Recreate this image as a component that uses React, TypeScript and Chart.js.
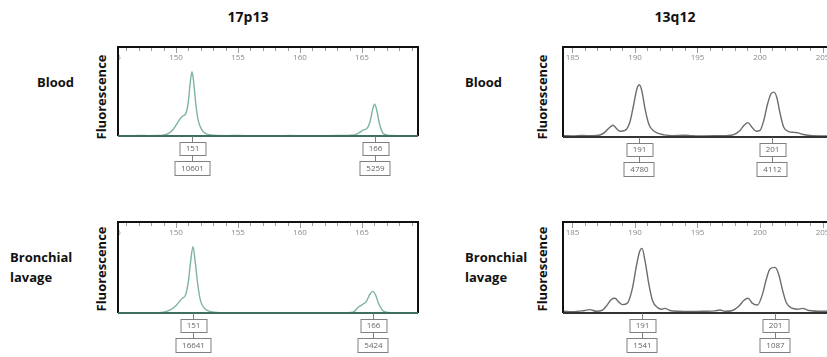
import React, { useEffect, useRef } from "react";
import { Chart, registerables } from "chart.js";
Chart.register(...registerables);

// ---------- column / row labels ----------
const COLUMN_TITLES = ["17p13", "13q12"];
const ROW_LABELS = [["Blood"], ["Bronchial", "lavage"]];
const Y_TITLE = "Fluorescence";

// ---------- tick labels ----------
const TICKS_17P13 = [145, 150, 155, 160, 165, 170];
const TICKS_13Q12 = [185, 190, 195, 200, 205];

// ---------- 17p13, Blood ----------
const BL17_SIZE = [145.32, 146.14, 146.95, 147.77, 148.59, 148.99, 149.4, 149.81, 150.22, 150.53, 150.78, 150.99, 151.14, 151.29, 151.45, 151.6, 151.8, 152.06, 152.36, 152.77, 153.28, 154.1, 155.12, 156.14, 157.16, 158.18, 159.2, 160.22, 161.24, 162.27, 163.29, 164.1, 164.61, 165.12, 165.43, 165.68, 165.89, 166.02, 166.19, 166.4, 166.65, 166.96, 167.37, 168.39, 169.52];
const BL17_RFU = [70, 50, 90, 60, 80, 150, 420, 1200, 2500, 3300, 3650, 5600, 8700, 10601, 8400, 5200, 2500, 1100, 450, 180, 80, 60, 90, 50, 70, 60, 80, 50, 70, 60, 80, 120, 350, 1000, 1300, 2600, 4600, 5259, 4300, 2100, 600, 200, 90, 60, 70];
const BL17_CALL_POS = [151.29, 166.02];
const BL17_CALLS = ["151", "166"];
const BL17_HEIGHTS = ["10601", "5259"];

// ---------- 17p13, Bronchial lavage ----------
const BR17_SIZE = [145.32, 146.14, 146.95, 147.77, 148.59, 148.99, 149.5, 150.01, 150.47, 150.78, 150.99, 151.19, 151.37, 151.55, 151.75, 151.96, 152.26, 152.67, 153.08, 153.69, 154.61, 155.63, 156.65, 157.67, 158.69, 159.71, 160.73, 161.75, 162.78, 163.8, 164.31, 164.72, 165.02, 165.33, 165.64, 165.87, 166.1, 166.35, 166.65, 166.96, 167.37, 168.39, 169.52];
const BR17_RFU = [80, 60, 100, 70, 90, 200, 700, 1900, 3600, 4600, 7800, 13200, 16641, 12800, 7200, 3300, 1300, 450, 180, 90, 70, 100, 60, 90, 70, 80, 60, 90, 70, 90, 250, 1500, 2100, 2800, 4700, 5424, 4500, 2300, 700, 220, 100, 70, 80];
const BR17_CALL_POS = [151.37, 165.87];
const BR17_CALLS = ["151", "166"];
const BR17_HEIGHTS = ["16641", "5424"];

// ---------- 13q12, Blood ----------
const BL13_SIZE = [184.24, 185.0, 185.8, 186.6, 187.2, 187.6, 187.95, 188.24, 188.5, 188.8, 189.2, 189.6, 189.9, 190.15, 190.35, 190.55, 190.8, 191.1, 191.4, 191.8, 192.3, 193.0, 194.0, 194.5, 195.5, 196.5, 197.3, 197.9, 198.4, 198.75, 199.04, 199.35, 199.7, 200.0, 200.3, 200.6, 200.9, 201.12, 201.35, 201.6, 201.9, 202.3, 202.7, 203.05, 203.4, 204.0, 205.0, 206.0];
const BL13_RFU = [120, 100, 140, 110, 180, 450, 850, 1070, 800, 520, 600, 1400, 3000, 4400, 4780, 4200, 2600, 1200, 650, 350, 200, 130, 160, 120, 100, 110, 130, 220, 600, 1100, 1320, 900, 520, 600, 1500, 3000, 4000, 4112, 3600, 2200, 900, 500, 420, 380, 250, 140, 100, 110];
const BL13_CALL_POS = [190.35, 201.0];
const BL13_CALLS = ["191", "201"];
const BL13_HEIGHTS = ["4780", "4112"];

// ---------- 13q12, Bronchial lavage ----------
const BR13_SIZE = [184.24, 185.0, 185.8, 186.4, 186.9, 187.4, 187.8, 188.1, 188.4, 188.7, 189.0, 189.4, 189.8, 190.1, 190.35, 190.56, 190.8, 191.1, 191.4, 191.8, 192.1, 192.4, 192.8, 193.5, 194.5, 195.5, 196.4, 196.8, 197.2, 197.8, 198.3, 198.7, 199.04, 199.4, 199.8, 200.2, 200.5, 200.8, 201.2, 201.5, 201.8, 202.1, 202.5, 203.0, 203.4, 203.9, 205.0, 206.0];
const BR13_RFU = [40, 30, 50, 80, 40, 70, 200, 320, 350, 260, 200, 240, 600, 1100, 1450, 1541, 1250, 700, 300, 130, 90, 110, 60, 40, 35, 40, 50, 70, 40, 60, 160, 300, 350, 230, 190, 450, 800, 1050, 1087, 920, 550, 250, 120, 90, 110, 60, 40, 45];
const BR13_CALL_POS = [190.56, 201.2];
const BR13_CALLS = ["191", "201"];
const BR13_HEIGHTS = ["1541", "1087"];

const FONT = '"Open Sans", "DejaVu Sans", sans-serif';
const PAD = 4;
const BOTTOM = 45;

type PanelProps = {
  left: number; top: number; boxW: number; boxH: number;
  xMin: number; xMax: number; yMax: number;
  sizes: number[]; rfu: number[];
  color: string; baseColor: string;
  ticks: number[];
  callPos: number[]; calls: string[]; heights: string[];
};

function Panel(p: PanelProps) {
  const ref = useRef<HTMLCanvasElement>(null);
  useEffect(() => {
    const frame = {
      id: "frame",
      afterDraw(chart: any) {
        const { ctx, chartArea: a, scales } = chart;
        const x = scales.x;
        ctx.save();
        // minor / major ticks along top
        ctx.strokeStyle = "#9a9a9a";
        ctx.lineWidth = 1;
        for (let v = Math.ceil(x.min); v <= Math.floor(x.max); v++) {
          const px = Math.round(x.getPixelForValue(v)) + 0.5;
          const len = v % 5 === 0 ? 6 : 4;
          ctx.beginPath();
          ctx.moveTo(px, a.top);
          ctx.lineTo(px, a.top + len);
          ctx.stroke();
        }
        // tick labels, clipped to the box
        ctx.save();
        ctx.beginPath();
        ctx.rect(a.left, a.top, a.right - a.left, a.bottom - a.top);
        ctx.clip();
        ctx.fillStyle = "#8a8a8a";
        ctx.font = `8px ${FONT}`;
        ctx.textAlign = "center";
        ctx.textBaseline = "middle";
        for (const t of p.ticks) {
          ctx.fillText(String(t), x.getPixelForValue(t), a.top + 11);
        }
        ctx.restore();
        // frame: left, top, right
        ctx.strokeStyle = "#111";
        ctx.lineWidth = 2;
        ctx.beginPath();
        ctx.moveTo(a.left, a.bottom);
        ctx.lineTo(a.left, a.top);
        ctx.lineTo(a.right, a.top);
        ctx.lineTo(a.right, a.bottom);
        ctx.stroke();
        // baseline
        ctx.strokeStyle = p.baseColor;
        ctx.lineWidth = 2;
        ctx.beginPath();
        ctx.moveTo(a.left, a.bottom);
        ctx.lineTo(a.right, a.bottom);
        ctx.stroke();
        // peak call boxes
        ctx.font = `8px ${FONT}`;
        ctx.textAlign = "center";
        ctx.textBaseline = "middle";
        ctx.lineWidth = 1;
        p.callPos.forEach((pos, i) => {
          const cx = Math.round(x.getPixelForValue(pos)) + 0.5;
          const b = Math.round(a.bottom) + 0.5;
          ctx.strokeStyle = "#808080";
          ctx.beginPath();
          ctx.moveTo(cx, b);
          ctx.lineTo(cx, b + 6);
          ctx.moveTo(cx, b + 19);
          ctx.lineTo(cx, b + 25);
          ctx.stroke();
          const w1 = 26;
          ctx.strokeRect(Math.round(cx - w1 / 2), b + 6, w1, 13);
          const w2 = Math.max(30, ctx.measureText(p.heights[i]).width + 12);
          ctx.strokeRect(Math.round(cx - w2 / 2), b + 25, Math.round(w2), 14);
          ctx.fillStyle = "#666";
          ctx.fillText(p.calls[i], cx, b + 12.5);
          ctx.fillText(p.heights[i], cx, b + 32);
        });
        ctx.restore();
      },
    };
    const chart = new Chart(ref.current!, {
      type: "line",
      data: {
        datasets: [
          {
            data: p.sizes.map((s, i) => ({ x: s, y: p.rfu[i] })),
            borderColor: p.color,
            borderWidth: 1.4,
            pointRadius: 0,
            cubicInterpolationMode: "monotone",
            fill: false,
          },
        ],
      },
      options: {
        animation: false,
        responsive: false,
        maintainAspectRatio: false,
        devicePixelRatio: 1,
        layout: { padding: { left: PAD, top: PAD, right: PAD, bottom: BOTTOM } },
        plugins: { legend: { display: false }, tooltip: { enabled: false }, title: { display: false } },
        scales: {
          x: { type: "linear", min: p.xMin, max: p.xMax, display: false },
          y: { type: "linear", min: 0, max: p.yMax, display: false },
        },
      },
      plugins: [frame],
    } as any);
    return () => chart.destroy();
  }, []);
  const w = p.boxW + PAD * 2;
  const h = p.boxH + PAD + BOTTOM;
  return (
    <canvas
      ref={ref}
      width={w}
      height={h}
      style={{ position: "absolute", left: p.left - PAD, top: p.top - PAD, width: w, height: h }}
    />
  );
}

const label: React.CSSProperties = {
  position: "absolute",
  fontFamily: FONT,
  fontWeight: 700,
  fontSize: 13,
  color: "#111",
  whiteSpace: "nowrap",
  lineHeight: "20px",
};

function YTitle({ cx, cy }: { cx: number; cy: number }) {
  return (
    <div
      style={{
        ...label,
        left: cx,
        top: cy,
        transform: "translate(-50%, -50%) rotate(-90deg)",
      }}
    >
      {Y_TITLE}
    </div>
  );
}

export default function App() {
  const teal = "#7db3a3";
  const tealBase = "#3f6f60";
  const gray = "#6c6c6c";
  const grayBase = "#333";
  return (
    <div style={{ position: "absolute", left: 0, top: 0, width: 827, height: 357, overflow: "hidden", background: "#fff" }}>
      <div style={{ ...label, fontSize: 14, left: 248, top: 17, transform: "translate(-50%, -50%)" }}>{COLUMN_TITLES[0]}</div>
      <div style={{ ...label, fontSize: 14, left: 675, top: 17, transform: "translate(-50%, -50%)" }}>{COLUMN_TITLES[1]}</div>

      <div style={{ ...label, left: 37, top: 72 }}>{ROW_LABELS[0][0]}</div>
      <div style={{ ...label, left: 10, top: 247 }}>{ROW_LABELS[1][0]}<br />{ROW_LABELS[1][1]}</div>
      <div style={{ ...label, left: 465, top: 72 }}>{ROW_LABELS[0][0]}</div>
      <div style={{ ...label, left: 465, top: 247 }}>{ROW_LABELS[1][0]}<br />{ROW_LABELS[1][1]}</div>

      <YTitle cx={101} cy={97} />
      <YTitle cx={101} cy={269} />
      <YTitle cx={542} cy={97} />
      <YTitle cx={542} cy={269} />

      <Panel left={118} top={47} boxW={300} boxH={89} xMin={145.32} xMax={169.52} yMax={14700}
        sizes={BL17_SIZE} rfu={BL17_RFU} color={teal} baseColor={tealBase} ticks={TICKS_17P13}
        callPos={BL17_CALL_POS} calls={BL17_CALLS} heights={BL17_HEIGHTS} />
      <Panel left={118} top={222} boxW={300} boxH={91} xMin={145.32} xMax={169.52} yMax={22800}
        sizes={BR17_SIZE} rfu={BR17_RFU} color={teal} baseColor={tealBase} ticks={TICKS_17P13}
        callPos={BR17_CALL_POS} calls={BR17_CALLS} heights={BR17_HEIGHTS} />
      <Panel left={563} top={47} boxW={272} boxH={90} xMin={184.24} xMax={206.0} yMax={8240}
        sizes={BL13_SIZE} rfu={BL13_RFU} color={gray} baseColor={grayBase} ticks={TICKS_13Q12}
        callPos={BL13_CALL_POS} calls={BL13_CALLS} heights={BL13_HEIGHTS} />
      <Panel left={563} top={222} boxW={272} boxH={91} xMin={184.24} xMax={206.0} yMax={2170}
        sizes={BR13_SIZE} rfu={BR13_RFU} color={gray} baseColor={grayBase} ticks={TICKS_13Q12}
        callPos={BR13_CALL_POS} calls={BR13_CALLS} heights={BR13_HEIGHTS} />
    </div>
  );
}
